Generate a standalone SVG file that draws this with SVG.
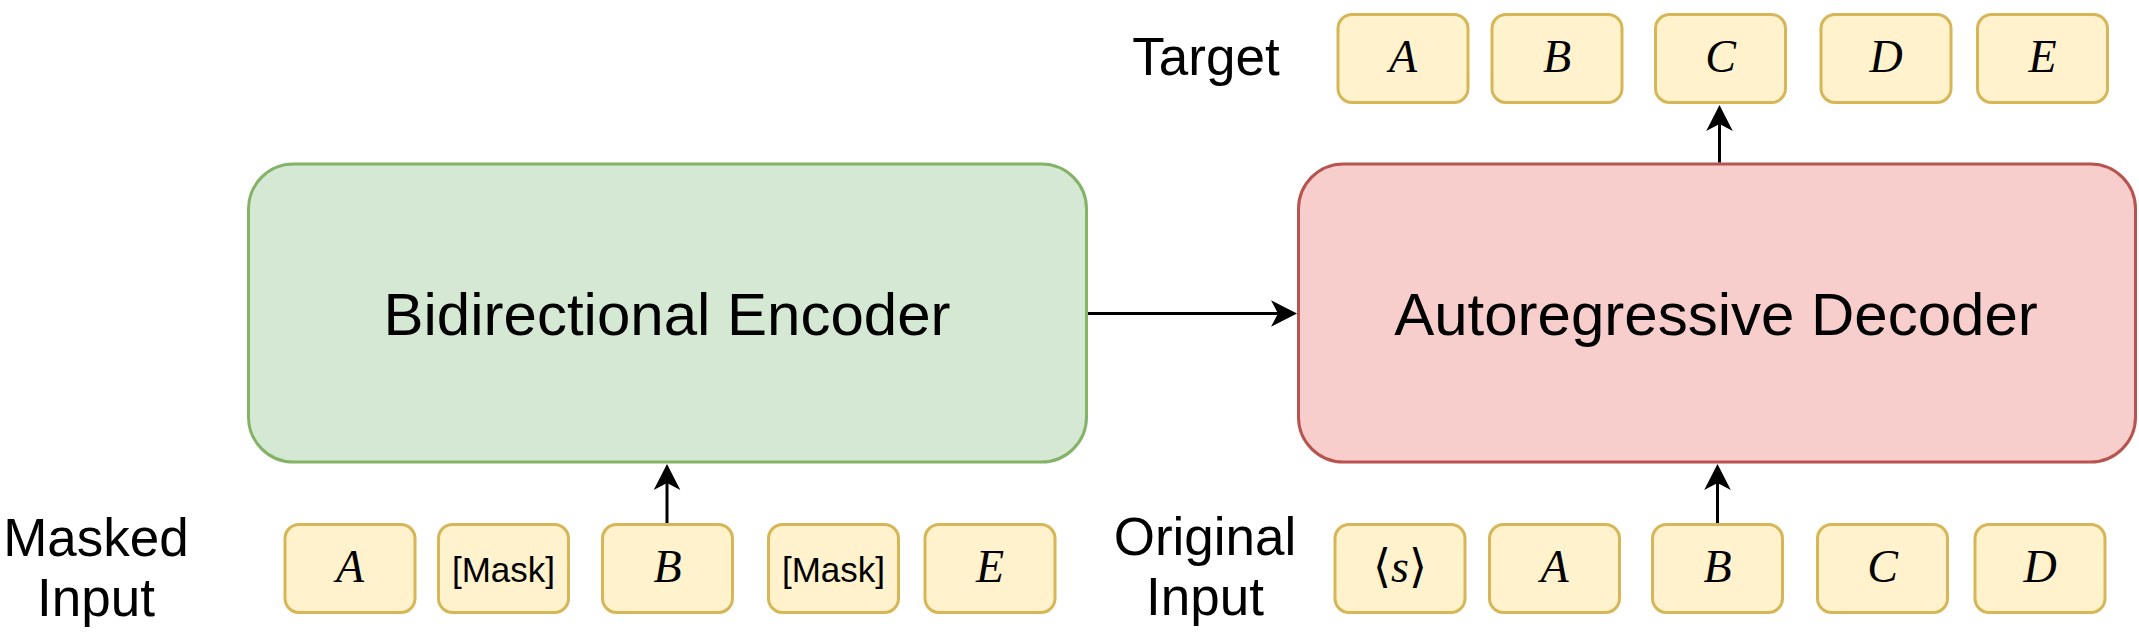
<svg xmlns="http://www.w3.org/2000/svg" width="2139" height="633" viewBox="0 0 2139 633">
<style>
.tok{fill:#fff2cc;stroke:#d6b656;stroke-width:3}
.enc{fill:#d5e8d4;stroke:#82b366;stroke-width:3}
.dec{fill:#f8cecc;stroke:#b85450;stroke-width:3}
.big{font-family:"Liberation Sans",Arial,sans-serif;font-size:60px;fill:#000;text-anchor:middle}
.lbl{font-family:"Liberation Sans",Arial,sans-serif;font-size:53px;fill:#000;text-anchor:middle}
.mask{font-family:"Liberation Sans",Arial,sans-serif;font-size:35px;fill:#000;text-anchor:middle}
.math{font-family:"Liberation Serif","Times New Roman",serif;font-style:italic;font-size:46px;fill:#000;text-anchor:middle}
.br{font-family:"DejaVu Serif",serif;font-style:normal;font-size:46px}
.con{stroke:#000;stroke-width:3;fill:none;marker-end:url(#arr)}
</style>
<defs>
<marker id="arr" markerUnits="userSpaceOnUse" markerWidth="27" markerHeight="28" viewBox="0 0 27 28" refX="16" refY="14" orient="auto">
<path d="M26,14 L0,0.7 L7,14 L0,27.3 Z" fill="#000"/>
</marker>
</defs>
<rect width="2139" height="633" fill="#fff"/>

<g id="encoder">
<rect class="enc" x="248.5" y="164" width="838" height="298" rx="45" ry="45"/>
<text class="big" x="667" y="335">Bidirectional Encoder</text>
</g>
<g id="decoder">
<rect class="dec" x="1298.5" y="164" width="837" height="298" rx="45" ry="45"/>
<text class="big" x="1716" y="335">Autoregressive Decoder</text>
</g>

<g id="label-masked-input">
<text class="lbl" x="96" y="556">Masked</text>
<text class="lbl" x="96" y="616">Input</text>
</g>
<g id="label-original-input">
<text class="lbl" x="1205" y="555">Original</text>
<text class="lbl" x="1205" y="615">Input</text>
</g>
<g id="label-target">
<text class="lbl" x="1206" y="75">Target</text>
</g>

<g id="masked-A"><rect class="tok" x="285" y="524.5" width="130" height="88" rx="14"/><text class="math" x="350" y="582">A</text></g>
<g id="masked-mask1"><rect class="tok" x="438.5" y="524.5" width="130" height="88" rx="14"/><text class="mask" x="503.5" y="582">[Mask]</text></g>
<g id="masked-B"><rect class="tok" x="602.5" y="524.5" width="130" height="88" rx="14"/><text class="math" x="667.5" y="582">B</text></g>
<g id="masked-mask2"><rect class="tok" x="768.5" y="524.5" width="130" height="88" rx="14"/><text class="mask" x="833.5" y="582">[Mask]</text></g>
<g id="masked-E"><rect class="tok" x="925" y="524.5" width="130" height="88" rx="14"/><text class="math" x="990" y="582">E</text></g>

<g id="orig-s"><rect class="tok" x="1335" y="524.5" width="130" height="88" rx="14"/><text class="math" x="1400" y="582"><tspan class="br">⟨</tspan>s<tspan class="br">⟩</tspan></text></g>
<g id="orig-A"><rect class="tok" x="1489.5" y="524.5" width="130" height="88" rx="14"/><text class="math" x="1554.5" y="582">A</text></g>
<g id="orig-B"><rect class="tok" x="1652.5" y="524.5" width="130" height="88" rx="14"/><text class="math" x="1717.5" y="582">B</text></g>
<g id="orig-C"><rect class="tok" x="1817.5" y="524.5" width="130" height="88" rx="14"/><text class="math" x="1882.5" y="582">C</text></g>
<g id="orig-D"><rect class="tok" x="1975" y="524.5" width="130" height="88" rx="14"/><text class="math" x="2040" y="582">D</text></g>

<g id="target-A"><rect class="tok" x="1338" y="14.5" width="130" height="88" rx="14"/><text class="math" x="1403" y="72">A</text></g>
<g id="target-B"><rect class="tok" x="1492" y="14.5" width="130" height="88" rx="14"/><text class="math" x="1557" y="72">B</text></g>
<g id="target-C"><rect class="tok" x="1655.5" y="14.5" width="130" height="88" rx="14"/><text class="math" x="1720.5" y="72">C</text></g>
<g id="target-D"><rect class="tok" x="1821" y="14.5" width="130" height="88" rx="14"/><text class="math" x="1886" y="72">D</text></g>
<g id="target-E"><rect class="tok" x="1977.5" y="14.5" width="130" height="88" rx="14"/><text class="math" x="2042.5" y="72">E</text></g>

<g id="connectors">
<line class="con" x1="1088" y1="313.5" x2="1287" y2="313.5"/>
<line class="con" x1="667" y1="523" x2="667" y2="474"/>
<line class="con" x1="1717.5" y1="523" x2="1717.5" y2="474"/>
<line class="con" x1="1719.5" y1="162.5" x2="1719.5" y2="115"/>
</g>
</svg>
